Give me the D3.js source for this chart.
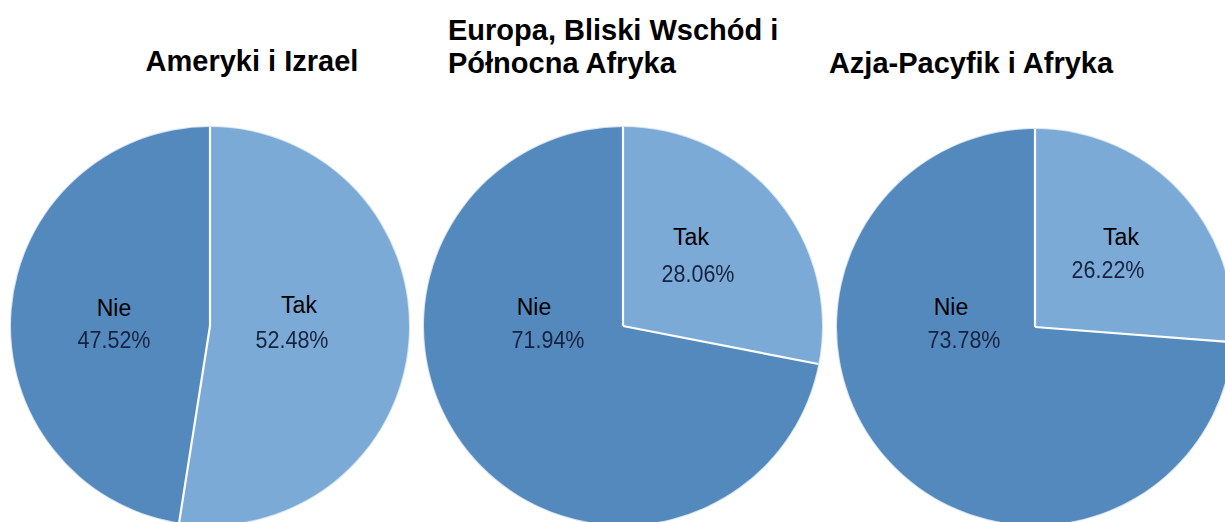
<!DOCTYPE html>
<html>
<head>
<meta charset="utf-8">
<script src="https://cdn.jsdelivr.net/npm/d3@7"></script>
<style>
  html, body { margin: 0; padding: 0; background: #ffffff; }
  svg { display: block; }
</style>
</head>
<body>
<svg id="chart" width="1225" height="522"></svg>
<script>
// Answers per region
const categories = ["Tak", "Nie"];
const regions = [
  ["Ameryki i Izrael"],
  ["Europa, Bliski Wschód i", "Północna Afryka"],
  ["Azja-Pacyfik i Afryka"]
];
const takValues = [52.48, 28.06, 26.22];
const nieValues = [47.52, 71.94, 73.78];

// Layout: pie centres, radii, titles and label anchors (relative to centre)
const layout = [
  { cx: 210, cy: 326, r: 199, titleX: 252, titleAnchor: "middle", titleY: [71],
    labels: [[89, -13], [-96, -10]], pctDy: [35, 32], pctDx: [-7, 0] },
  { cx: 623, cy: 326, r: 199, titleX: 448, titleAnchor: "start", titleY: [40, 73],
    labels: [[68, -81], [-89, -11]], pctDy: [37, 33], pctDx: [7, 14] },
  { cx: 1035, cy: 327, r: 198, titleX: 971, titleAnchor: "middle", titleY: [73],
    labels: [[86, -82], [-84, -12]], pctDy: [33, 33], pctDx: [-13, 13] }
];

const colors = d3.scaleOrdinal().domain(categories).range(["#7baad7", "#5489be"]);

const svg = d3.select("#chart");
const defs = svg.append("defs");
defs.append("filter").attr("id", "soft")
  .append("feGaussianBlur").attr("stdDeviation", 0.45);
defs.append("filter").attr("id", "edge")
  .append("feGaussianBlur").attr("stdDeviation", 0.7);

const pie = d3.pie().sort(null).value(d => d.value);

regions.forEach((title, i) => {
  const L = layout[i];
  const data = [
    { name: categories[0], value: takValues[i] },
    { name: categories[1], value: nieValues[i] }
  ];
  const arcs = pie(data);
  const arc = d3.arc().innerRadius(0).outerRadius(L.r);

  const g = svg.append("g").attr("transform", `translate(${L.cx},${L.cy})`);

  // soft halo around the disc
  g.append("circle").attr("r", L.r + 1).attr("fill", "#d5e3f1").attr("filter", "url(#edge)");

  g.selectAll("path.slice").data(arcs).join("path")
    .attr("class", "slice")
    .attr("d", arc)
    .attr("fill", d => colors(d.data.name));

  // white separators at slice boundaries
  g.selectAll("line.sep").data(arcs).join("line")
    .attr("class", "sep")
    .attr("x1", 0).attr("y1", 0)
    .attr("x2", d => L.r * Math.sin(d.startAngle))
    .attr("y2", d => -L.r * Math.cos(d.startAngle))
    .attr("stroke", "#ffffff")
    .attr("stroke-width", 2.2);

  // category name and percentage labels
  arcs.forEach((d, j) => {
    const [lx, ly] = L.labels[j];
    g.append("text")
      .attr("x", lx).attr("y", ly)
      .attr("text-anchor", "middle")
      .attr("font-family", "Liberation Sans, Arial, sans-serif")
      .attr("font-size", 23)
      .attr("fill", "#000000")
      .text(d.data.name);
    g.append("text")
      .attr("transform", `translate(${lx + L.pctDx[j]},${ly + L.pctDy[j]}) scale(1,1.1)`)
      .attr("text-anchor", "middle")
      .attr("font-family", "Liberation Sans, Arial, sans-serif")
      .attr("font-size", 21.5)
      .attr("fill", "#17233f")
      .attr("filter", "url(#soft)")
      .text(d.data.value.toFixed(2) + "%");
  });

  // title
  const t = svg.append("text")
    .attr("text-anchor", L.titleAnchor)
    .attr("font-family", "Liberation Sans, Arial, sans-serif")
    .attr("font-weight", "bold")
    .attr("font-size", 29)
    .attr("fill", "#000000");
  title.forEach((line, k) => {
    t.append("tspan").attr("x", L.titleX).attr("y", L.titleY[k]).text(line);
  });
});
</script>
</body>
</html>
